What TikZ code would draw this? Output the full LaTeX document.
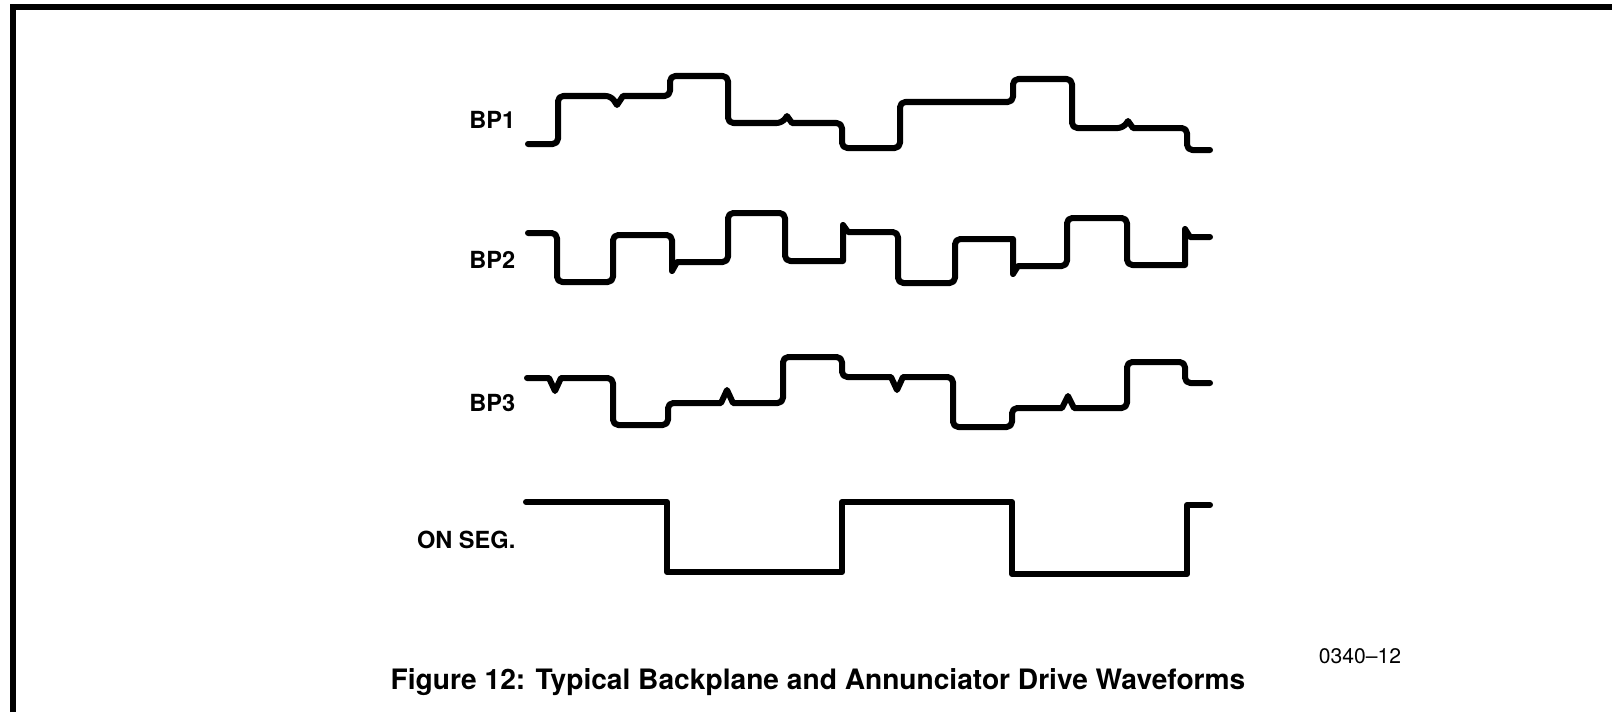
\documentclass[tikz,border=0pt]{standalone}
\usepackage{fontspec}
\setmainfont{TeX Gyre Heros}
\usepackage{tikz}
\usetikzlibrary{positioning}

\begin{document}
\begin{tikzpicture}[x = 0.01cm, y = -0.01cm,
    wave/.style = { line width = 0.06cm, line join = round, line cap = round, rounded corners = 1.5pt },
    lbl/.style = { anchor = east, inner sep = 0pt, font = \fontsize{6.7}{8}\selectfont\bfseries }]
      \useasboundingbox (0,0) rectangle (1612,712);
      % frame
      \draw[line width = 0.05cm] (13,712) -- (13,7) -- (1612,7);
      % labels
      \node[lbl] (bp1) at (516,120) { BP1 };
      \node[lbl] (bp2) at (516,260) { BP2 };
      \node[lbl] (bp3) at (516,403) { BP3 };
      \node[lbl] (onseg) at (516,540) { ON SEG. };
      % waveforms
      \draw[wave] (528,144) -- (558,144) -- (558,96) -- (611,96) [sharp corners] -- (617,105) -- (623,96)
        [rounded corners = 1.5pt] -- (670,96) -- (670,76) -- (728,76) -- (728,123) -- (782,123)
        [sharp corners] -- (787,116) -- (792,123) [rounded corners = 1.5pt]
        -- (842,123) -- (842,148) -- (900,148) -- (900,102) -- (1013,102) -- (1013,79)
        -- (1072,79) -- (1072,128) -- (1123,128) [sharp corners] -- (1128,121) -- (1133,128)
        [rounded corners = 1.5pt] -- (1187,128) -- (1187,150) -- (1210,150);
      \draw[wave] (528,233) -- (557,233) -- (557,282) -- (613,282) -- (613,235) -- (672,235)
        [sharp corners] -- (672,271) -- (677,262) [rounded corners = 1.5pt] -- (728,262)
        -- (728,213) -- (785,213) -- (785,261) [sharp corners] -- (843,261) -- (843,225)
        -- (848,232) [rounded corners = 1.5pt] -- (898,232) -- (898,283) -- (955,283)
        -- (955,239) [sharp corners] -- (1013,239) -- (1013,274) -- (1018,266)
        [rounded corners = 1.5pt] -- (1067,266) -- (1067,218) -- (1127,218) -- (1127,265)
        [sharp corners] -- (1185,265) -- (1185,229) -- (1190,237) -- (1210,237);
      \draw[wave] (527,378) [sharp corners] -- (549,378) -- (555,391) -- (561,378)
        [rounded corners = 1.5pt] -- (613,378) -- (613,425) -- (668,425) -- (668,403)
        [sharp corners] -- (721,403) -- (727,390) -- (733,403) [rounded corners = 1.5pt]
        -- (783,403) -- (783,357) -- (842,357) -- (842,377) [sharp corners] -- (891,377)
        -- (897,390) -- (903,377) [rounded corners = 1.5pt] -- (953,377) -- (953,427)
        -- (1012,427) -- (1012,408) [sharp corners] -- (1062,408) -- (1068,396) -- (1074,408)
        [rounded corners = 1.5pt] -- (1127,408) -- (1127,362) -- (1185,362) -- (1185,383)
        -- (1210,383);
      \draw[wave, rounded corners = 0pt] (526,502) -- (667,502) -- (667,572) -- (842,572)
        -- (842,502) -- (1012,502) -- (1012,574) -- (1187,574) -- (1187,505) -- (1210,505);
      % caption
      \node[inner sep = 0pt, font = \fontsize{6}{7}\selectfont] (figno) at (1360,656) { 0340--12 };
      \node[inner sep = 0pt, font = \fontsize{8}{9}\selectfont\bfseries] (caption) at (818,682)
        { Figure 12: Typical Backplane and Annunciator Drive Waveforms };
    \end{tikzpicture}
\end{document}
